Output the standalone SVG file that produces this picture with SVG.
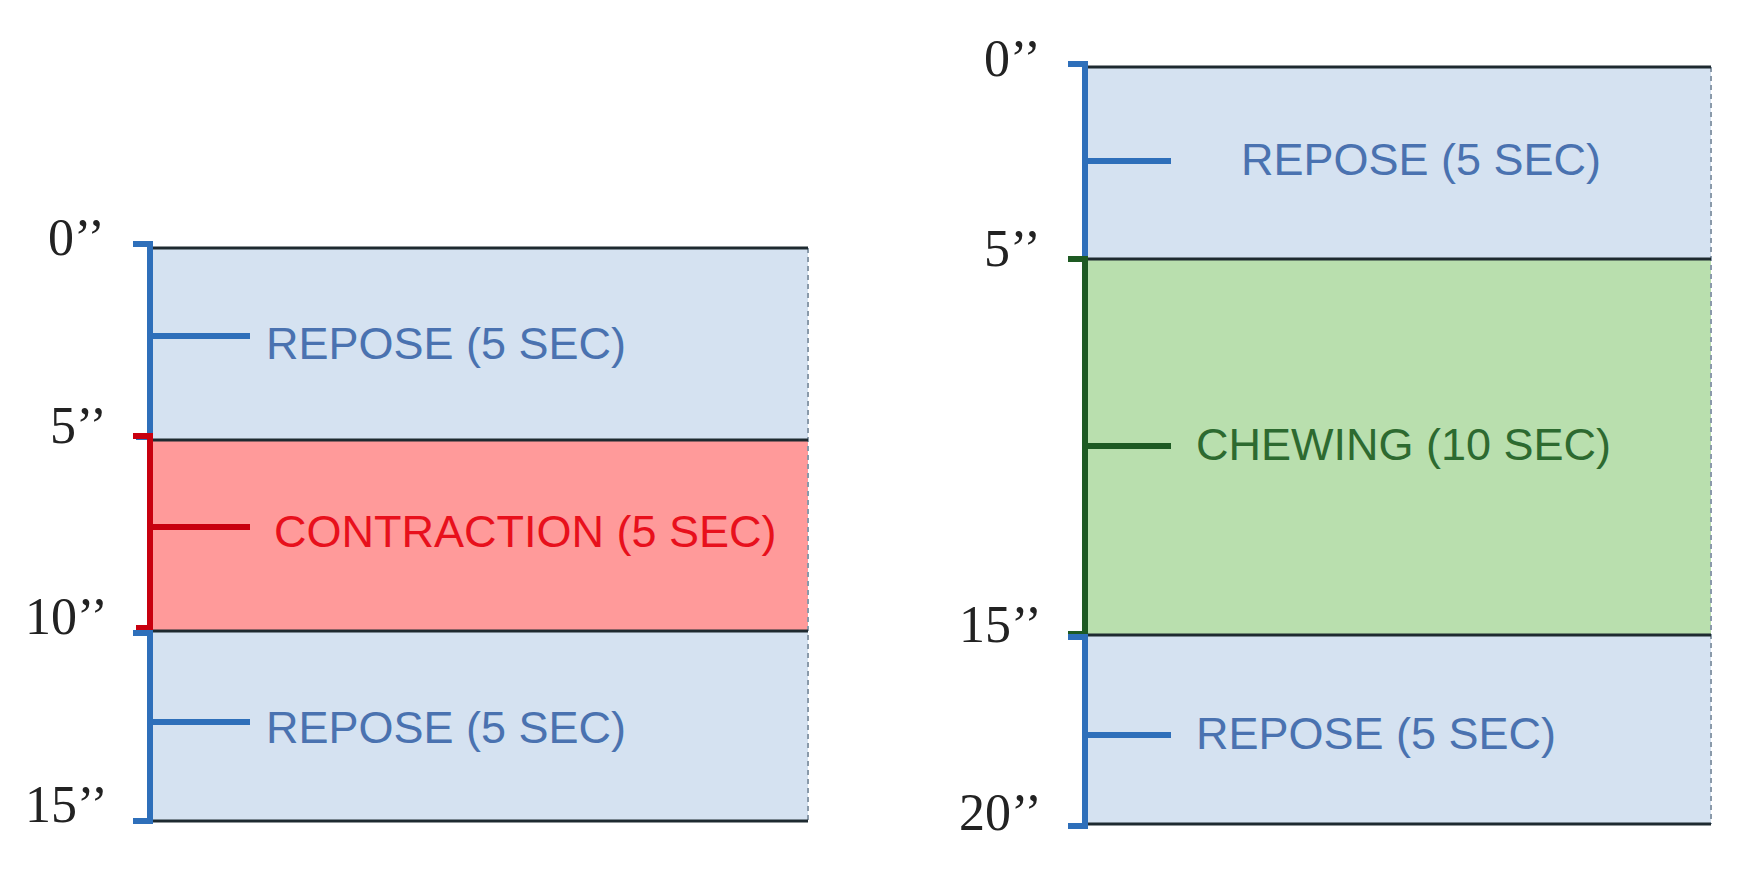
<svg xmlns="http://www.w3.org/2000/svg" width="1750" height="870" viewBox="0 0 1750 870">
<style>
.t{font-family:"Liberation Sans",Arial,sans-serif;font-size:45px}
.n{font-family:"Liberation Serif","Times New Roman",serif;font-size:52px;fill:#222}
.blue{fill:#d5e2f1}.red{fill:#ff9a9a}.green{fill:#b9dfae}
.line{stroke:#1e2a30;stroke-width:3}
.dash{stroke:#8a9aaa;stroke-width:2;stroke-dasharray:5 4}
.bb{stroke:#2e6fba;stroke-width:6;fill:none}
.br{stroke:#c8000f;stroke-width:6;fill:none}
.bg{stroke:#1e5a23;stroke-width:6;fill:none}
</style>
<rect width="1750" height="870" fill="#fff"/>
<g id="left">
<g id="l-rest1"><rect class="blue" x="150" y="248" width="658" height="192"/><text class="t" x="266" y="359" fill="#4a72b0">REPOSE (5 SEC)</text></g>
<g id="l-contr"><rect class="red" x="150" y="440" width="658" height="191"/><text class="t" x="274" y="547" fill="#e8101c">CONTRACTION  (5 SEC)</text></g>
<g id="l-rest2"><rect class="blue" x="150" y="631" width="658" height="190"/><text class="t" x="266" y="743" fill="#4a72b0">REPOSE (5 SEC)</text></g>
<line class="dash" x1="808" y1="248" x2="808" y2="821"/>
<line class="line" x1="152" y1="248" x2="808" y2="248"/>
<line class="line" x1="152" y1="440" x2="808" y2="440"/>
<line class="line" x1="152" y1="631" x2="808" y2="631"/>
<line class="line" x1="152" y1="821" x2="808" y2="821"/>
<g id="l-labels">
<text class="n" x="48" y="255">0’’</text>
<text class="n" x="50" y="443">5’’</text>
<text class="n" x="25" y="634">10’’</text>
<text class="n" x="25" y="822">15’’</text>
</g>
</g>
<g id="right">
<g id="r-rest1"><rect class="blue" x="1085" y="67" width="626" height="192"/><text class="t" x="1241" y="175" fill="#4a72b0">REPOSE (5 SEC)</text></g>
<g id="r-chew"><rect class="green" x="1085" y="259" width="626" height="376"/><text class="t" x="1196" y="460" fill="#2d6a30">CHEWING  (10 SEC)</text></g>
<g id="r-rest2"><rect class="blue" x="1085" y="635" width="626" height="189"/><text class="t" x="1196" y="749" fill="#4a72b0">REPOSE (5 SEC)</text></g>
<line class="dash" x1="1711" y1="67" x2="1711" y2="824"/>
<line class="line" x1="1087" y1="67" x2="1711" y2="67"/>
<line class="line" x1="1087" y1="259" x2="1711" y2="259"/>
<line class="line" x1="1087" y1="635" x2="1711" y2="635"/>
<line class="line" x1="1087" y1="824" x2="1711" y2="824"/>
<g id="r-labels">
<text class="n" x="984" y="76">0’’</text>
<text class="n" x="984" y="266">5’’</text>
<text class="n" x="959" y="642">15’’</text>
<text class="n" x="959" y="830">20’’</text>
</g>
</g>
<g id="connectors">
<path class="bb" d="M133 244 H150 V437 H136"/>
<path class="br" d="M133 436 H150 V628 H136"/>
<path class="bb" d="M133 633 H150 V821 H133"/>
<line class="bb" x1="150" y1="336" x2="250" y2="336"/>
<line class="br" x1="150" y1="527" x2="250" y2="527"/>
<line class="bb" x1="150" y1="722" x2="250" y2="722"/>
<path class="bb" d="M1068 64 H1085 V256"/>
<path class="bg" d="M1068 259 H1085 V634 H1068"/>
<path class="bb" d="M1068 637 H1085 V826 H1068"/>
<line class="bb" x1="1085" y1="161" x2="1171" y2="161"/>
<line class="bg" x1="1085" y1="446" x2="1171" y2="446"/>
<line class="bb" x1="1085" y1="735" x2="1171" y2="735"/>
</g>
</svg>
